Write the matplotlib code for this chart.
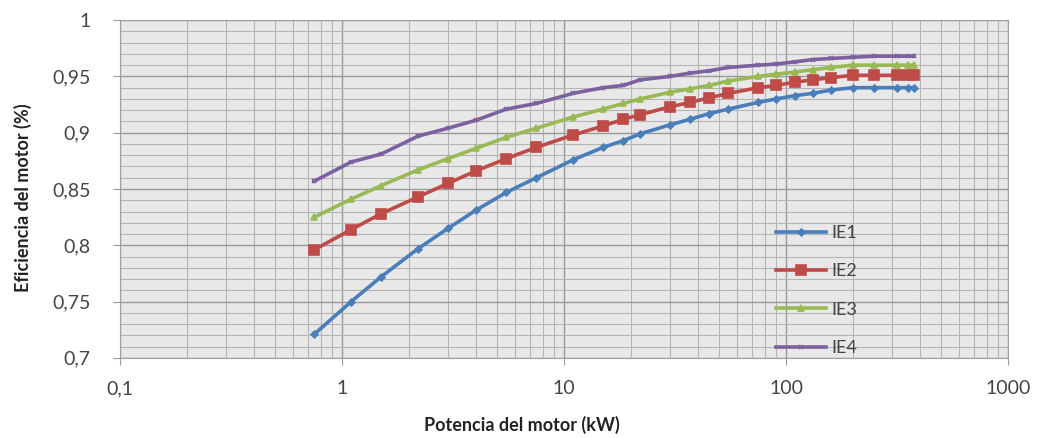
"""Eficiencia de motores IE1-IE4 frente a potencia"""
import matplotlib
matplotlib.use("Agg")
import matplotlib.pyplot as plt
import matplotlib.ticker as mticker
import numpy as np

potencia = [0.75, 1.1, 1.5, 2.2, 3, 4, 5.5, 7.5, 11, 15, 18.5, 22, 30, 37, 45,
            55, 75, 90, 110, 132, 160, 200, 250, 315, 355, 375]

ie1 = [0.721, 0.750, 0.772, 0.797, 0.815, 0.831, 0.847, 0.860, 0.876, 0.887,
       0.893, 0.899, 0.907, 0.912, 0.917, 0.921, 0.927, 0.930, 0.933, 0.935,
       0.938, 0.940, 0.940, 0.940, 0.940, 0.940]
ie2 = [0.796, 0.814, 0.828, 0.843, 0.855, 0.866, 0.877, 0.887, 0.898, 0.906,
       0.912, 0.916, 0.923, 0.927, 0.931, 0.935, 0.940, 0.942, 0.945, 0.947,
       0.949, 0.951, 0.951, 0.951, 0.951, 0.951]
ie3 = [0.825, 0.841, 0.853, 0.867, 0.877, 0.886, 0.896, 0.904, 0.914, 0.921,
       0.926, 0.930, 0.936, 0.939, 0.942, 0.946, 0.950, 0.952, 0.954, 0.956,
       0.958, 0.960, 0.960, 0.960, 0.960, 0.960]
ie4 = [0.857, 0.874, 0.881, 0.897, 0.904, 0.911, 0.921, 0.926, 0.935, 0.940,
       0.942, 0.947, 0.950, 0.953, 0.955, 0.958, 0.960, 0.961, 0.963, 0.965,
       0.966, 0.967, 0.968, 0.968, 0.968, 0.968]

series = [("IE1", ie1, "#4a7ebb", "D", 3.5),
          ("IE2", ie2, "#be4b48", "s", 6.5),
          ("IE3", ie3, "#98b954", "^", 5),
          ("IE4", ie4, "#7d60a0", "x", 3)]

plt.rcParams['font.family'] = ['Lato', 'DejaVu Sans']

fig = plt.figure(figsize=(10.37, 4.38), dpi=100)
ax = fig.add_axes([0.1157, 0.183, 0.8565, 0.771])
ax.set_facecolor("#e8e8e8")

for nombre, vals, color, marker, ms in series:
    ax.plot(potencia, vals, color=color, lw=2.6, marker=marker, ms=ms,
            mew=1.2, label=nombre)

ax.set_xscale("log")
ax.set_xlim(0.1, 1000)
ax.set_ylim(0.7, 1.0)

ax.xaxis.set_major_locator(mticker.FixedLocator([0.1, 1, 10, 100, 1000]))
ax.xaxis.set_major_formatter(mticker.FixedFormatter(["0,1", "1", "10", "100", "1000"]))
ax.xaxis.set_minor_locator(mticker.LogLocator(base=10, subs=np.arange(2, 10)))
ax.xaxis.set_minor_formatter(mticker.NullFormatter())

yt = np.arange(0.7, 1.001, 0.05)
ax.yaxis.set_major_locator(mticker.FixedLocator(yt))
ax.yaxis.set_major_formatter(mticker.FixedFormatter(
    ["0,7", "0,75", "0,8", "0,85", "0,9", "0,95", "1"]))
ax.yaxis.set_minor_locator(mticker.MultipleLocator(0.01))

ax.grid(which="major", color="#999999", lw=1.0)
ax.grid(which="minor", color="#b4b4b4", lw=0.8)
ax.set_axisbelow(True)

ax.tick_params(which="major", length=5, color="#999999", labelsize=14,
               labelcolor="#444444")
ax.tick_params(which="minor", length=0)
ax.tick_params(axis="x", pad=11)
ax.tick_params(axis="y", pad=16)
for s in ax.spines.values():
    s.set_color("#a0a0a0")

ax.set_xlabel("Potencia del motor (kW)", fontsize=13, fontweight="bold",
              color="#222222")
ax.xaxis.set_label_coords(0.453, -0.172)
ax.set_ylabel("Eficiencia del motor (%)", fontsize=13, fontweight="bold",
              color="#222222")
ax.yaxis.set_label_coords(-0.099, 0.473)

ax.legend(loc="upper left", bbox_to_anchor=(0.72, 0.442), frameon=False,
          fontsize=13, labelspacing=1.24, handlelength=2.8, handletextpad=0.3,
          labelcolor="#444444")

fig.savefig("out.png", dpi=100)
